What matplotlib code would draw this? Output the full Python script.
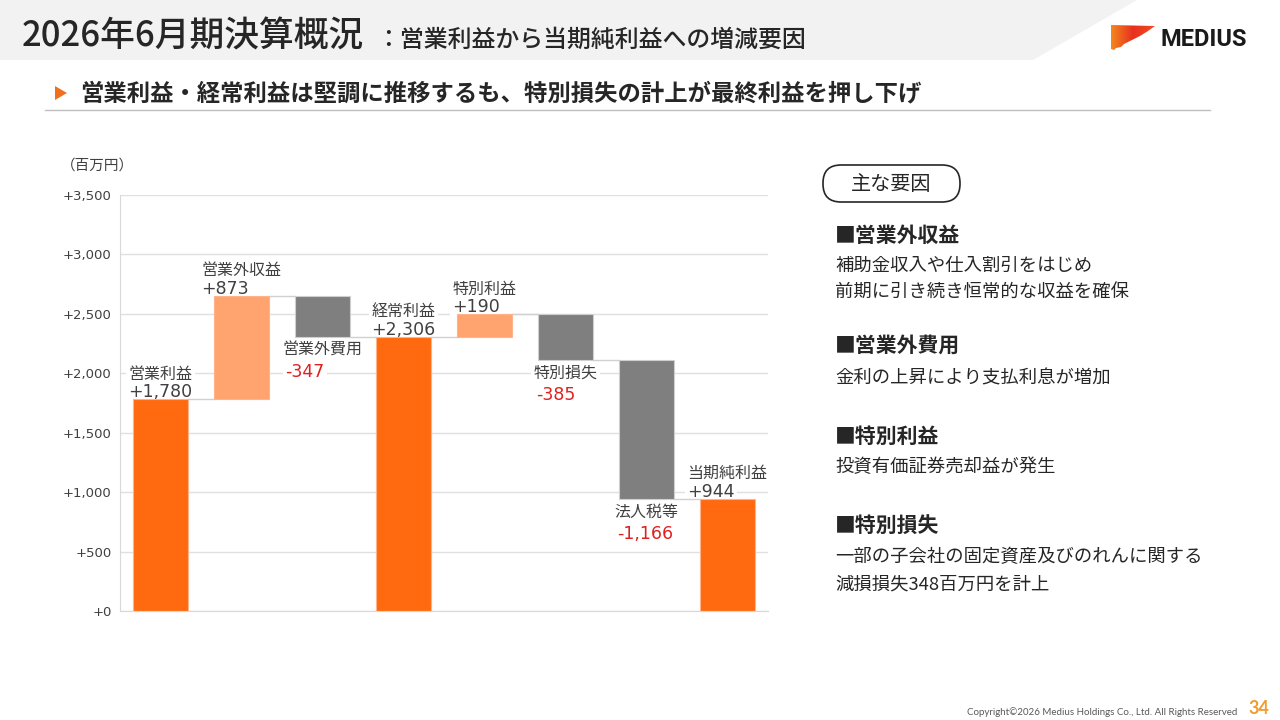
import numpy as np
import matplotlib.pyplot as plt
from matplotlib.patches import Polygon, FancyBboxPatch
from matplotlib.colors import LinearSegmentedColormap

plt.rcParams['font.family'] = ['Noto Sans CJK JP', 'DejaVu Sans']

# ---- data ----
names = ['営業利益', '営業外収益', '営業外費用', '経常利益', '特別利益', '特別損失', '法人税等', '当期純利益']
values = [1780, 873, -347, 2306, 190, -385, -1166, 944]
is_total = [True, False, False, True, False, False, False, True]
yticks = [0, 500, 1000, 1500, 2000, 2500, 3000, 3500]

factor_titles = ['■営業外収益', '■営業外費用', '■特別利益', '■特別損失']
factor_texts = [
    ['補助金収入や仕入割引をはじめ', '前期に引き続き恒常的な収益を確保'],
    ['金利の上昇により支払利息が増加'],
    ['投資有価証券売却益が発生'],
    ['一部の子会社の固定資産及びのれんに関する', '減損損失348百万円を計上'],
]

title = '2026年6月期決算概況'
title_sub = '：営業利益から当期純利益への増減要因'
message = '営業利益・経常利益は堅調に推移するも、特別損失の計上が最終利益を押し下げ'

C_TOTAL = '#FF6A10'
C_UP = '#FFA46E'
C_DOWN = '#7F7F7F'
C_TEXT = '#262626'

# waterfall levels
bottoms, heights, ends = [], [], []
run = 0
for v, t in zip(values, is_total):
    if t:
        bottoms.append(0)
        heights.append(v)
        run = v
    else:
        bottoms.append(min(run, run + v))
        heights.append(abs(v))
        run += v
    ends.append(run)

fig = plt.figure(figsize=(12.8, 7.2), dpi=100, facecolor='white')

# background layer in pixel coords
bg = fig.add_axes([0, 0, 1, 1], zorder=0)
bg.set_xlim(0, 1280)
bg.set_ylim(720, 0)
bg.axis('off')

bg.add_patch(Polygon([(0, 0), (1137, 0), (1033, 60), (0, 60)], closed=True,
                     facecolor='#F2F2F2', edgecolor='none'))
bg.text(22, 37, title, fontsize=25, va='center', color=C_TEXT, weight='medium')
bg.text(376, 40, title_sub, fontsize=17.2, va='center', color=C_TEXT, weight='medium')

# logo
logo = Polygon([(1111, 25), (1155, 26), (1148, 31), (1140, 36), (1132, 40), (1128, 42),
                (1124, 44), (1121, 47), (1116, 48), (1114, 50), (1111, 49)],
               closed=True, facecolor='none', edgecolor='none')
bg.add_patch(logo)
grad = np.linspace(0, 1, 60).reshape(1, -1)
cm = LinearSegmentedColormap.from_list('logo', ['#F58A1F', '#E8301E', '#F04E23'])
im = bg.imshow(grad, extent=(1110, 1156, 51, 24), cmap=cm, aspect='auto')
im.set_clip_path(logo)
bg.set_xlim(0, 1280)
bg.set_ylim(720, 0)
bg.text(1160, 39, 'MEDIUS', family=['Roboto', 'DejaVu Sans'], weight='bold',
        fontsize=17, va='center', color='#1A1A1A')

# message line
bg.add_patch(Polygon([(55, 86), (55, 100), (67, 93)], closed=True,
                     facecolor='#F07020', edgecolor='none'))
bg.text(80, 93, message, fontsize=16.8, weight='bold', va='center', color=C_TEXT)
bg.plot([45, 1210], [110, 110], color='#BFBFBF', lw=1)

# right panel
bg.add_patch(FancyBboxPatch((823, 165), 137, 37, boxstyle='round,pad=0,rounding_size=18',
                            facecolor='white', edgecolor='#262626', lw=1.2))
bg.text(891, 184, '主な要因', fontsize=14.5, ha='center', va='center', color=C_TEXT)
head_y = [235, 345, 436, 525]
body_y = [[266, 293], [378], [467], [557, 585]]
for ttl, lines, hy, bys in zip(factor_titles, factor_texts, head_y, body_y):
    bg.text(835, hy, ttl, fontsize=15, weight='bold', va='center', color=C_TEXT)
    for ln, by in zip(lines, bys):
        bg.text(835, by, ln, fontsize=13.2, va='center', color=C_TEXT)

bg.text(61, 166, '（百万円）', fontsize=10.5, va='center', color='#404040')

# footer
bg.text(1237, 712, 'Copyright©2026 Medius Holdings Co., Ltd. All Rights Reserved',
        family=['Lato', 'DejaVu Sans'], fontsize=7, ha='right', va='center', color='#595959')
bg.text(1259, 709, '34', family=['Lato', 'DejaVu Sans'], fontsize=13, weight='bold',
        ha='center', va='center', color='#F39C2B')

# ---- waterfall chart ----
ax = fig.add_axes([120 / 1280, 1 - 611 / 720, 648 / 1280, 416 / 720], zorder=1)
ax.set_facecolor('none')
x = np.arange(len(names))
colors = [C_TOTAL if t else (C_UP if v > 0 else C_DOWN) for v, t in zip(values, is_total)]
edges = ['#FFB38A' if c != C_DOWN else '#CFCFCF' for c in colors]
bw = 0.67
ax.bar(x, heights, bottom=bottoms, width=bw, color=colors, edgecolor=edges, lw=0.8, zorder=2)

for i in range(len(names) - 1):
    ax.plot([i + bw / 2, i + 1 - bw / 2], [ends[i], ends[i]], color='#D0D0D0', lw=1, zorder=1.8)

ax.set_xlim(-0.5, len(names) - 0.5)
ax.set_ylim(0, 3500)
ax.set_yticks(yticks)
ax.set_yticklabels([f'+{v:,}' for v in yticks], family=['DejaVu Sans'], fontsize=9.5)
ax.set_xticks([])
ax.tick_params(axis='y', length=0, pad=6, labelcolor='#404040')
ax.grid(axis='y', color='#E0E0E0', lw=1)
ax.set_axisbelow(True)
for s in ['top', 'right']:
    ax.spines[s].set_visible(False)
for s in ['left', 'bottom']:
    ax.spines[s].set_color('#D9D9D9')

fs_name = 11.5
box = dict(facecolor='white', edgecolor='none', pad=1.5)
for i, (n, v, t) in enumerate(zip(names, values, is_total)):
    half = len(n) * fs_name / 2
    if v >= 0:
        ytop = bottoms[i] + heights[i]
        ax.annotate(n, (i, ytop), xytext=(0, 15), textcoords='offset points',
                    ha='center', va='baseline', fontsize=fs_name, color='#404040',
                    bbox=box, zorder=1.5)
        ax.annotate(f'{v:+,}', (i, ytop), xytext=(-half, 1.5), textcoords='offset points',
                    ha='left', va='baseline', fontsize=12.5, color='#404040',
                    family=['DejaVu Sans'], bbox=box, zorder=1.5)
    else:
        ybot = bottoms[i]
        ax.annotate(n, (i, ybot), xytext=(0, -13), textcoords='offset points',
                    ha='center', va='baseline', fontsize=fs_name, color='#404040',
                    bbox=box, zorder=1.5)
        ax.annotate(f'{v:+,}', (i, ybot), xytext=(-half + 2, -29), textcoords='offset points',
                    ha='left', va='baseline', fontsize=12.5, color='#E0201E',
                    family=['DejaVu Sans'], bbox=box, zorder=1.5)

fig.savefig('out.png', dpi=100, facecolor='white')
